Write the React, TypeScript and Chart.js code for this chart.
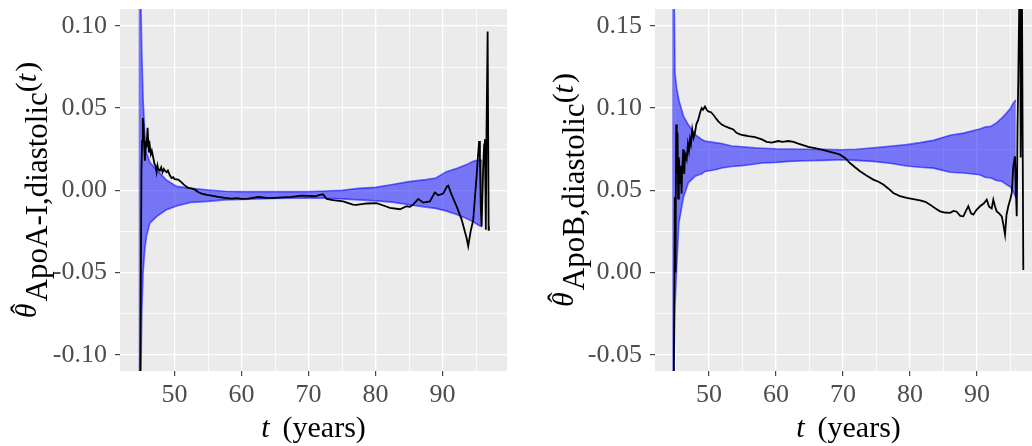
import React, { useEffect, useRef } from 'react';
import { Chart, registerables } from 'chart.js';

Chart.register(...registerables);

const FONT = "'Liberation Serif', 'Times New Roman', serif";

// ---------- Left panel: ApoA-I ----------
const leftEstT = [44.8, 44.95, 45.05, 45.15, 45.25, 45.35, 45.45, 45.57, 45.7, 45.8, 45.97, 46.05, 46.16, 46.3, 46.45, 46.6, 46.81, 47.0, 47.15, 47.31, 47.45, 47.55, 47.8, 48.0, 48.2, 48.4, 48.55, 48.8, 49.0, 49.3, 49.55, 49.8, 50.0, 50.54, 51.0, 51.5, 52.03, 52.5, 53.03, 53.5, 54.03, 54.8, 55.52, 56.5, 57.51, 58.5, 59.3, 60.0, 61.0, 62.48, 63.5, 64.97, 66.0, 67.46, 68.96, 70.0, 70.94, 71.7, 72.13, 72.69, 73.63, 75.16, 76.61, 77.16, 78.7, 80.15, 81.69, 82.13, 83.63, 84.63, 85.12, 85.61, 86.36, 87.1, 88.1, 88.85, 89.34, 90.09, 90.64, 90.84, 91.34, 92.09, 92.84, 93.58, 93.82, 94.18, 94.57, 95.07, 95.31, 95.45, 95.57, 95.7, 95.82, 96.06, 96.2, 96.31, 96.45, 96.55, 96.72, 96.87, 96.91];
const leftEst = [-0.16, -0.06, 0.012, 0.03, 0.044, 0.04, 0.028, 0.018, 0.03, 0.026, 0.038, 0.03, 0.023, 0.027, 0.022, 0.024, 0.02, 0.016, 0.015, 0.011, 0.015, 0.013, 0.012, 0.014, 0.011, 0.013, 0.012, 0.011, 0.012, 0.009, 0.0075, 0.008, 0.0068, 0.0065, 0.005, 0.003, 0.0015, 0.0012, 0.0004, -0.001, -0.002, -0.0028, -0.0032, -0.004, -0.0046, -0.005, -0.0048, -0.0052, -0.005, -0.004, -0.0045, -0.0046, -0.0043, -0.004, -0.0032, -0.0034, -0.0036, -0.0028, -0.0024, -0.0052, -0.006, -0.0067, -0.0087, -0.0088, -0.008, -0.0078, -0.01, -0.0107, -0.0115, -0.0097, -0.01, -0.0087, -0.0052, -0.0075, -0.0067, -0.0012, -0.003, -0.002, 0.0023, 0.0029, -0.0026, -0.0097, -0.0178, -0.029, -0.034, -0.025, -0.018, 0.0085, 0.0227, 0.03, 0.02, -0.01, -0.022, 0.0146, 0.028, 0.031, -0.024, 0.035, 0.0966, -0.024, -0.022];
const leftBandT = [44.6, 44.8, 44.95, 45.1, 45.3, 45.55, 45.8, 46.3, 47.3, 48.7, 50.3, 52.5, 55, 57.5, 60, 62.5, 65, 67.5, 70, 72.5, 75, 77.5, 80, 82.5, 85, 87.5, 89, 90.5, 92, 93.5, 94.5, 95.5, 95.9];
const leftLower = [-0.3, -0.2, -0.12, -0.075, -0.05, -0.036, -0.028, -0.02, -0.016, -0.012, -0.0095, -0.0073, -0.0067, -0.0058, -0.0055, -0.0052, -0.005, -0.0048, -0.0046, -0.0048, -0.0052, -0.0058, -0.0064, -0.0072, -0.0088, -0.0102, -0.011, -0.0125, -0.0145, -0.017, -0.019, -0.0215, -0.022];
const leftUpper = [0.3, 0.2, 0.12, 0.085, 0.055, 0.035, 0.023, 0.017, 0.0126, 0.0065, 0.0024, 0.0012, 0.0002, -0.0006, -0.0008, -0.0008, -0.0008, -0.0008, -0.0008, -0.0004, 0.0, 0.0012, 0.0018, 0.0035, 0.0053, 0.0065, 0.0075, 0.0112, 0.0132, 0.0155, 0.0176, 0.0187, 0.018];
const leftYMajor = [-0.1, -0.05, 0, 0.05, 0.1];
const leftYLabels = ['-0.10', '-0.05', '0.00', '0.05', '0.10'];
const leftYMinor = [-0.075, -0.025, 0.025, 0.075];
const leftSubscript = 'ApoA-I,diastolic';

// ---------- Right panel: ApoB ----------
const rightEstT = [44.7, 44.9, 45.0, 45.1, 45.2, 45.3, 45.4, 45.5, 45.67, 45.8, 45.9, 46.0, 46.16, 46.3, 46.45, 46.67, 46.85, 47.0, 47.16, 47.3, 47.5, 47.7, 47.9, 48.1, 48.4, 48.65, 48.9, 49.1, 49.4, 49.65, 49.9, 50.3, 50.64, 51.0, 51.39, 51.9, 52.39, 53.0, 53.63, 54.1, 54.63, 55.2, 55.87, 56.87, 57.87, 58.6, 59.36, 60.34, 61.0, 61.84, 62.6, 63.33, 64.82, 65.8, 66.82, 67.8, 68.81, 69.55, 70.3, 71.04, 71.8, 72.54, 73.5, 74.52, 75.3, 76.01, 76.8, 77.51, 78.5, 79.51, 80.5, 81.49, 82.3, 82.99, 83.8, 84.48, 85.2, 85.97, 86.5, 86.97, 87.5, 87.96, 88.4, 88.7, 89.1, 89.45, 89.9, 90.45, 91.0, 91.45, 91.8, 92.19, 92.43, 92.7, 92.94, 93.3, 93.69, 93.9, 94.18, 94.4, 94.67, 95.0, 95.18, 95.42, 95.67, 95.8, 95.93, 96.05, 96.16, 96.42, 96.52, 96.67, 96.91];
const rightEst = [-0.1, 0.046, 0.0, 0.09, 0.06, 0.085, 0.045, 0.07, 0.054, 0.065, 0.048, 0.062, 0.075, 0.06, 0.072, 0.069, 0.078, 0.074, 0.081, 0.078, 0.087, 0.082, 0.085, 0.09, 0.093, 0.097, 0.1, 0.099, 0.101, 0.099, 0.098, 0.0975, 0.096, 0.094, 0.092, 0.09, 0.089, 0.088, 0.087, 0.085, 0.084, 0.0835, 0.083, 0.0824, 0.081, 0.0795, 0.079, 0.08, 0.0795, 0.08, 0.0795, 0.0784, 0.0764, 0.0757, 0.0747, 0.0737, 0.0727, 0.0717, 0.0697, 0.0666, 0.064, 0.0616, 0.059, 0.0565, 0.0552, 0.0535, 0.051, 0.0484, 0.0465, 0.0454, 0.0447, 0.0439, 0.043, 0.0413, 0.039, 0.0372, 0.0365, 0.0363, 0.0375, 0.037, 0.0345, 0.0342, 0.038, 0.0403, 0.036, 0.0352, 0.038, 0.0403, 0.042, 0.0443, 0.04, 0.039, 0.0443, 0.04, 0.0372, 0.036, 0.0342, 0.03, 0.023, 0.035, 0.0403, 0.045, 0.0484, 0.0646, 0.0707, 0.05, 0.0342, 0.09, 0.117, 0.2, 0.07, 0.2, 0.0016];
const rightBandT = [44.5, 44.75, 44.93, 45.18, 45.5, 46.2, 46.9, 47.9, 48.9, 49.4, 50.9, 51.9, 53.4, 54.9, 56.9, 57.9, 60, 61.9, 64.5, 66.9, 69.8, 72, 74.5, 77, 79.5, 81.5, 83.5, 86, 88, 90.4, 91.2, 92.1, 92.9, 93.7, 94.4, 95, 95.4, 95.8];
const rightLower = [-0.2, -0.06, -0.02, 0.0036, 0.03, 0.046, 0.0545, 0.0585, 0.06, 0.0615, 0.0625, 0.0636, 0.0645, 0.065, 0.066, 0.0666, 0.067, 0.0676, 0.068, 0.0682, 0.0686, 0.0682, 0.0676, 0.0665, 0.0648, 0.064, 0.0635, 0.061, 0.0605, 0.0595, 0.058, 0.0575, 0.056, 0.0555, 0.0535, 0.052, 0.0494, 0.0454];
const rightUpper = [0.3, 0.2, 0.121, 0.112, 0.105, 0.095, 0.09, 0.084, 0.081, 0.08, 0.079, 0.0785, 0.077, 0.0765, 0.0758, 0.0756, 0.0752, 0.0751, 0.075, 0.0749, 0.0747, 0.075, 0.0758, 0.0768, 0.0778, 0.079, 0.0804, 0.0835, 0.0848, 0.0873, 0.0885, 0.089, 0.091, 0.094, 0.097, 0.1, 0.103, 0.105];
const rightYMajor = [-0.05, 0, 0.05, 0.1, 0.15];
const rightYLabels = ['-0.05', '0.00', '0.05', '0.10', '0.15'];
const rightYMinor = [-0.025, 0.025, 0.075, 0.125];
const rightSubscript = 'ApoB,diastolic';

// ---------- shared x axis ----------
const xMajor = [50, 60, 70, 80, 90];
const xLabels = ['50', '60', '70', '80', '90'];
const xMinor = [45, 55, 65, 75, 85, 95];

const near = (a: number, b: number) => Math.abs(a - b) < 1e-9;
const isMajor = (v: number, majors: number[]) => majors.some((m) => near(m, v));
const buildTicks = (major: number[], minor: number[]) =>
  [...major, ...minor].sort((a, b) => a - b).map((v) => ({ value: v, major: isMajor(v, major) }));
const labelFor = (majors: number[], labels: string[]) => (value: number) => {
  const i = majors.findIndex((m) => near(m, value));
  return i >= 0 ? labels[i] : '';
};
const pts = (xs: number[], ys: number[]) => xs.map((x, i) => ({ x, y: ys[i] }));

const bgPlugin = {
  id: 'panelBg',
  beforeDraw(chart: any) {
    const { ctx, chartArea } = chart;
    ctx.save();
    ctx.fillStyle = '#EBEBEB';
    ctx.fillRect(chartArea.left, chartArea.top, chartArea.right - chartArea.left, chartArea.bottom - chartArea.top);
    ctx.restore();
  },
};

const titlePlugin = {
  id: 'mathTitles',
  afterDraw(chart: any, _args: any, opts: any) {
    const { ctx, chartArea } = chart;
    const roman = `30px ${FONT}`;
    const italic = `italic 30px ${FONT}`;
    const subFont = `31px ${FONT}`;
    ctx.save();
    ctx.fillStyle = '#000000';
    ctx.textAlign = 'left';
    ctx.textBaseline = 'alphabetic';
    // x title: t (years)
    ctx.font = italic;
    const wt = ctx.measureText('t').width;
    ctx.font = roman;
    const wy = ctx.measureText('(years)').width;
    const gap = 13;
    const cx = (chartArea.left + chartArea.right) / 2;
    const x0 = cx - (wt + gap + wy) / 2;
    const by = chartArea.bottom + opts.xTitleOffset;
    ctx.font = italic;
    ctx.fillText('t', x0, by);
    ctx.font = roman;
    ctx.fillText('(years)', x0 + wt + gap, by);

    // y title: θ̂_{sub}(t)
    ctx.translate(chartArea.left - opts.yTitleOffset, (chartArea.top + chartArea.bottom) / 2);
    ctx.rotate(-Math.PI / 2);
    ctx.font = italic;
    const wTh = ctx.measureText('θ').width;
    ctx.font = subFont;
    const wSub = ctx.measureText(opts.sub).width;
    ctx.font = roman;
    const wL = ctx.measureText('(').width;
    const wR = ctx.measureText(')').width;
    ctx.font = italic;
    const wt2 = ctx.measureText('t').width;
    const total = wTh + 2 + wSub + wL + wt2 + 2 + wR;
    let x = -total / 2;
    ctx.font = italic;
    ctx.fillText('θ', x, 0);
    ctx.font = roman;
    ctx.textAlign = 'center';
    ctx.fillText('ˆ', x + wTh / 2 + 2, -5);
    ctx.textAlign = 'left';
    x += wTh + 2;
    ctx.font = subFont;
    ctx.fillText(opts.sub, x, opts.subShift);
    x += wSub;
    ctx.font = roman;
    ctx.fillText('(', x, 0);
    x += wL;
    ctx.font = italic;
    ctx.fillText('t', x, 0);
    x += wt2 + 2;
    ctx.font = roman;
    ctx.fillText(')', x, 0);
    ctx.restore();
  },
};

type Spec = {
  left: number;
  width: number;
  axisWidth: number;
  padRight: number;
  xMin: number;
  xMax: number;
  yMin: number;
  yMax: number;
  estT: number[];
  est: number[];
  bandT: number[];
  lower: number[];
  upper: number[];
  yMajor: number[];
  yLabels: string[];
  yMinor: number[];
  sub: string;
  yTitleOffset: number;
};

const gridOpts = (majors: number[]) => ({
  color: '#FFFFFF',
  lineWidth: (c: any) => (c.tick && isMajor(c.tick.value, majors) ? 1.3 : 0.8),
  tickColor: (c: any) => (c.tick && isMajor(c.tick.value, majors) ? '#333333' : 'rgba(0,0,0,0)'),
  tickLength: 5,
  tickWidth: 1.1,
  drawTicks: true,
});

function Panel({ spec }: { spec: Spec }) {
  const ref = useRef<HTMLCanvasElement | null>(null);
  useEffect(() => {
    if (!ref.current) return;
    const chart = new Chart(ref.current, {
      type: 'line',
      data: {
        datasets: [
          {
            data: pts(spec.estT, spec.est),
            borderColor: '#000000',
            borderWidth: 1.8,
            pointRadius: 0,
            tension: 0,
            fill: false,
            clip: 0,
          } as any,
          {
            data: pts(spec.bandT, spec.lower),
            borderColor: 'rgba(0,0,255,0.55)',
            borderWidth: 1.6,
            pointRadius: 0,
            tension: 0,
            fill: false,
            clip: 0,
          },
          {
            data: pts(spec.bandT, spec.upper),
            borderColor: 'rgba(0,0,255,0.55)',
            borderWidth: 1.6,
            backgroundColor: 'rgba(0,0,255,0.5)',
            pointRadius: 0,
            tension: 0,
            fill: '-1',
            clip: 0,
          },
        ],
      },
      options: {
        animation: false,
        responsive: false,
        maintainAspectRatio: false,
        events: [],
        layout: { padding: { top: 9, right: spec.padRight, left: 0, bottom: 0 } },
        plugins: {
          legend: { display: false },
          tooltip: { enabled: false },
          mathTitles: { sub: spec.sub, yTitleOffset: spec.yTitleOffset, subShift: 11, xTitleOffset: 66 },
        } as any,
        scales: {
          x: {
            type: 'linear',
            min: spec.xMin,
            max: spec.xMax,
            afterBuildTicks: (s: any) => {
              s.ticks = buildTicks(xMajor, xMinor);
            },
            afterFit: (s: any) => {
              s.height = 75;
              s.paddingLeft = 0;
              s.paddingRight = 0;
            },
            grid: gridOpts(xMajor) as any,
            border: { display: false },
            ticks: {
              autoSkip: false,
              maxRotation: 0,
              minRotation: 0,
              padding: 4,
              color: '#4D4D4D',
              font: { family: FONT, size: 26 },
              callback: labelFor(xMajor, xLabels) as any,
            },
          },
          y: {
            type: 'linear',
            min: spec.yMin,
            max: spec.yMax,
            afterBuildTicks: (s: any) => {
              s.ticks = buildTicks(spec.yMajor, spec.yMinor);
            },
            afterFit: (s: any) => {
              s.width = spec.axisWidth;
              s.paddingTop = 0;
              s.paddingBottom = 0;
            },
            grid: gridOpts(spec.yMajor) as any,
            border: { display: false },
            ticks: {
              autoSkip: false,
              padding: 8,
              color: '#4D4D4D',
              font: { family: FONT, size: 26 },
              callback: labelFor(spec.yMajor, spec.yLabels) as any,
            },
          },
        },
      },
      plugins: [bgPlugin, titlePlugin],
    });
    return () => chart.destroy();
  }, [spec]);
  return (
    <canvas
      ref={ref}
      width={spec.width}
      height={446}
      style={{ position: 'absolute', left: spec.left, top: 0, width: spec.width, height: 446, display: 'block' }}
    />
  );
}

const leftSpec: Spec = {
  left: 0,
  width: 520,
  axisWidth: 120,
  padRight: 13,
  xMin: 41.85,
  xMax: 99.61,
  yMin: -0.1099,
  yMax: 0.1103,
  estT: leftEstT,
  est: leftEst,
  bandT: leftBandT,
  lower: leftLower,
  upper: leftUpper,
  yMajor: leftYMajor,
  yLabels: leftYLabels,
  yMinor: leftYMinor,
  sub: leftSubscript,
  yTitleOffset: 84,
};

const rightSpec: Spec = {
  left: 520,
  width: 522,
  axisWidth: 135,
  padRight: 0,
  xMin: 41.94,
  xMax: 99.7,
  yMin: -0.0599,
  yMax: 0.1603,
  estT: rightEstT,
  est: rightEst,
  bandT: rightBandT,
  lower: rightLower,
  upper: rightUpper,
  yMajor: rightYMajor,
  yLabels: rightYLabels,
  yMinor: rightYMinor,
  sub: rightSubscript,
  yTitleOffset: 82,
};

export default function App() {
  return (
    <div
      style={{
        position: 'absolute',
        left: 0,
        top: 0,
        width: 1032,
        height: 446,
        overflow: 'hidden',
        background: '#FFFFFF',
      }}
    >
      <Panel spec={leftSpec} />
      <Panel spec={rightSpec} />
    </div>
  );
}
